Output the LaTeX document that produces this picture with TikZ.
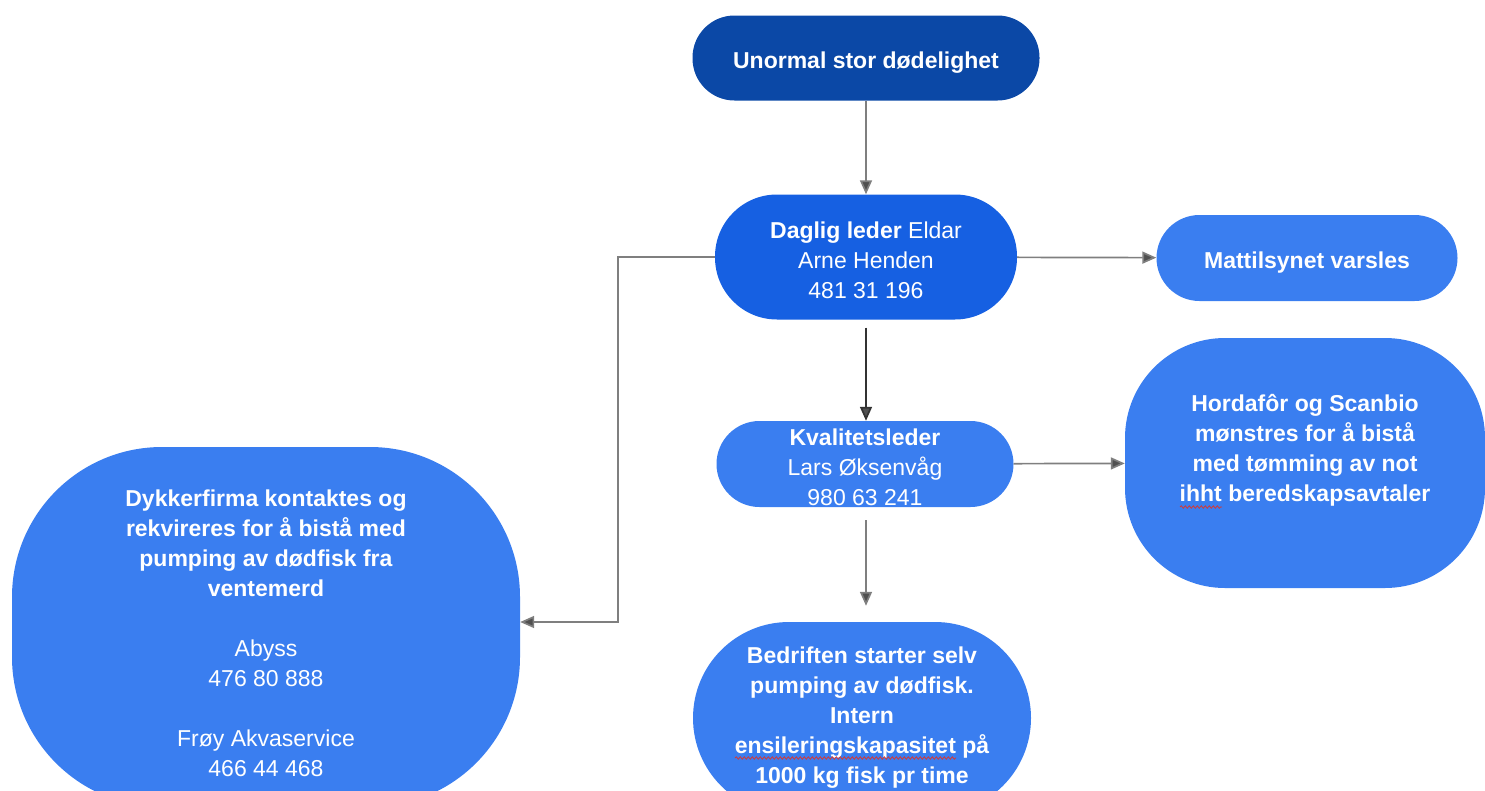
\documentclass[tikz,border=0pt]{standalone}
\usepackage{fontspec}
\setmainfont{Liberation Sans}
\usetikzlibrary{arrows.meta, decorations.pathmorphing}

\definecolor{navyblue}{HTML}{0B48A6}
\definecolor{midblue}{HTML}{1660E2}
\definecolor{lightblue}{HTML}{3A7EF0}
\definecolor{linegray}{HTML}{7F7F7F}
\definecolor{tipgray}{HTML}{505050}
\definecolor{spellred}{HTML}{D03A3A}

% invisible strut, pushes the text of a node down a little
\newcommand\dropline[1]{\rule{0pt}{#1}}

\tikzset{
  box/.style = {rectangle, text = white, align = center, inner sep = 0pt,
    font = \fontsize{23}{30}\selectfont},
  flow/.style = {draw = linegray, line width = 1.7pt,
    -{Triangle[length = 14pt, width = 12pt, fill = tipgray]}},
  spellwave/.style = {draw = spellred, line width = 0.8pt, decorate,
    decoration = {snake, amplitude = 1.2pt, segment length = 4pt}}
}

\begin{document}
\begin{tikzpicture}[x = 1pt, y = -1pt]
\useasboundingbox (0,0) rectangle (1485,790);
\clip (0,0) rectangle (1485,790);

\node (alarm) at (866,58) [box, fill = navyblue, minimum width = 347pt, minimum height = 85pt, rounded corners = 42pt] {\dropline{26pt}\textbf{Unormal stor dødelighet}};
\node (leder) at (866,257) [box, fill = midblue, minimum width = 302pt, minimum height = 125pt, rounded corners = 62pt] {\dropline{24pt}\textbf{Daglig leder} Eldar\\ Arne Henden\\ 481 31 196};
\node (mattilsynet) at (1307,258) [box, fill = lightblue, minimum width = 301pt, minimum height = 86pt, rounded corners = 43pt] {\dropline{26pt}\textbf{Mattilsynet varsles}};
\node (kvalitet) at (865,464) [box, fill = lightblue, minimum width = 297pt, minimum height = 86pt, rounded corners = 43pt] {\dropline{24pt}\textbf{Kvalitetsleder}\\ Lars Øksenvåg\\ 980 63 241};
\node (hordafor) at (1305,463) [box, fill = lightblue, minimum width = 360pt, minimum height = 250pt, rounded corners = 100pt] {\textbf{Hordafôr og Scanbio}\\ \textbf{mønstres for å bistå}\\ \textbf{med tømming av not}\\ \textbf{ihht beredskapsavtaler}\\ \mbox{}};
\node (dykker) at (266,627) [box, fill = lightblue, minimum width = 508pt, minimum height = 360pt, rounded corners = 150pt] {\dropline{30pt}\textbf{Dykkerfirma kontaktes og}\\ \textbf{rekvireres for å bistå med}\\ \textbf{pumping av dødfisk fra}\\ \textbf{ventemerd}\\ \mbox{}\\ Abyss\\ 476 80 888\\ \mbox{}\\ Frøy Akvaservice\\ 466 44 468};
\node (bedrift) at (862,718) [box, fill = lightblue, minimum width = 338pt, minimum height = 192pt, rounded corners = 96pt] {\textbf{Bedriften starter selv}\\ \textbf{pumping av dødfisk.}\\ \textbf{Intern}\\ \textbf{ensileringskapasitet på}\\ \textbf{1000 kg fisk pr time}};

% spell check marks
\draw [spellwave] (1180,507) -- (1222,507);
\draw [spellwave] (735,758) -- (956,758);

\coordinate (bend) at (618,622);

\draw [flow] (alarm) -- (leder);
\draw [flow] (leder) -- (mattilsynet);
\draw [flow, draw = black!80, shorten <= 8pt] (leder.south) -- (kvalitet.north -| leder.south);
\draw [flow] (leder.west) -| (bend) -- (dykker.east |- bend);
\draw [flow] (kvalitet) -- (hordafor);
\draw [flow, shorten <= 13pt, shorten >= 16pt] (kvalitet.south -| leder.south) -- (bedrift.north -| leder.south);
\end{tikzpicture}
\end{document}
